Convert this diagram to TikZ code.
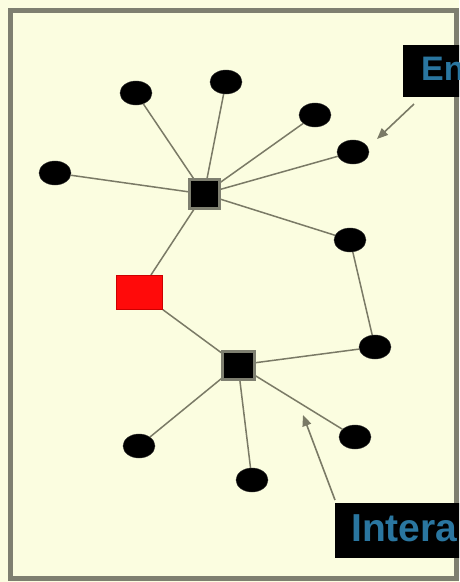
\documentclass[tikz,border=0pt]{standalone}
\usepackage{fontspec}
\setmainfont{Liberation Sans}
\usetikzlibrary{shapes.geometric,arrows.meta}
\definecolor{bg}{HTML}{FBFDE0}
\definecolor{frame}{HTML}{7E7F70}
\definecolor{edge}{HTML}{7A7A66}
\definecolor{lbl}{HTML}{2A76A0}
\definecolor{redsq}{HTML}{FF0A0A}
\tikzset{
  dot/.style={ellipse,fill=black,draw=black!80,minimum width=32pt,minimum height=24pt,inner sep=0pt},
  hub/.style={rectangle,fill=black,draw=frame,line width=3pt,minimum width=30pt,minimum height=29pt,inner sep=0pt},
  redbox/.style={rectangle,fill=redsq,draw=red!80!black,line width=0.8pt,minimum width=46pt,minimum height=34pt,inner sep=0pt},
  link/.style={draw=edge,line width=1.5pt},
  pointer/.style={draw=edge,line width=1.6pt,-{Triangle[length=11pt,width=9pt]}},
  tagbox/.style={fill=black,inner sep=0pt,anchor=north west},
  tagtext/.style={anchor=base west,text=lbl,inner sep=0pt}
}
\begin{document}
\begin{tikzpicture}[x=1pt,y=-1pt]
\useasboundingbox (0,0) rectangle (459,582);
\clip (0,0) rectangle (459,582);
\fill[bg] (0,0) rectangle (459,582);
\draw[frame,line width=5pt] (10,10) rectangle (456,578);
% nodes
\node[dot] (a) at (136,93) {};
\node[dot] (b) at (226,82) {};
\node[dot] (c) at (315,115) {};
\node[dot] (d) at (353,152) {};
\node[dot] (e) at (55,173) {};
\node[dot] (f) at (350,240) {};
\node[dot] (g) at (375,347) {};
\node[dot] (h) at (355,437) {};
\node[dot] (i) at (139,446) {};
\node[dot] (j) at (252,480) {};
\node[redbox] (r) at (139.5,292.5) {};
% edges
\coordinate (s1c) at (204,194);
\coordinate (s2c) at (238,365);
\foreach \t in {a,b,c,d,e,f} \draw[link] (s1c) -- (\t);
\foreach \t in {g,h,i,j} \draw[link] (s2c) -- (\t);
\draw[link] (s1c) -- (r);
\draw[link] (r) -- (s2c);
\draw[link] (f) -- (g);
\node[hub] (s1) at (s1c) {};
\node[hub,minimum width=32pt,minimum height=28pt] (s2) at (s2c) {};
\node[redbox] (r2) at (r) {};
% labels
\node[tagbox,minimum width=70pt,minimum height=52pt] (t1) at (403,45) {};
\node[tagtext,font=\bfseries\fontsize{34pt}{38pt}\selectfont] (l1) at (421,80) {En};
\node[tagbox,minimum width=140pt,minimum height=55pt] (t2) at (335,503) {};
\node[tagtext,font=\bfseries\fontsize{39pt}{42pt}\selectfont] (l2) at (351,541) {Intera};
\coordinate (p1) at (414,104);
\coordinate (q1) at (377,139);
\coordinate (p2) at (335,500);
\coordinate (q2) at (303,415);
\draw[pointer] (p1) -- (q1);
\draw[pointer] (p2) -- (q2);
\end{tikzpicture}
\end{document}
